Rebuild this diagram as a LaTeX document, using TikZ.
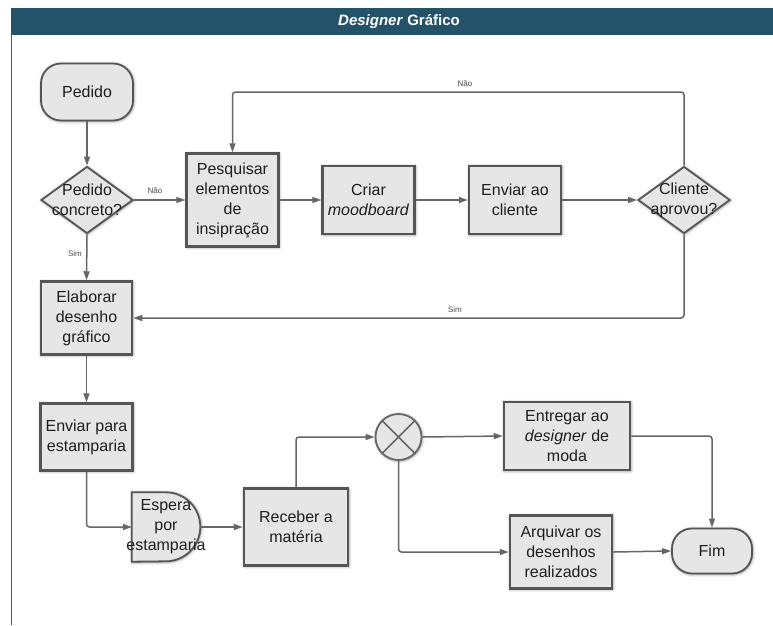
\documentclass[tikz,border=0pt]{standalone}
\usepackage{fontspec}
\setmainfont{Liberation Sans}
\usetikzlibrary{shapes.geometric,arrows.meta,shadows.blur}

\definecolor{headbar}{HTML}{245369}
\definecolor{boxfill}{HTML}{E6E6E6}
\definecolor{boxline}{HTML}{555555}
\definecolor{wire}{HTML}{666666}
\definecolor{ink}{HTML}{1E1E1E}

\tikzset{
  softshadow/.style={blur shadow={shadow xshift=0.6pt, shadow yshift=-0.6pt,
      shadow blur radius=3pt, shadow opacity=55}},
  boxtext/.style={align=center, text=ink, font=\fontsize{16}{20}\selectfont},
  proc/.style={rectangle, draw=boxline, fill=boxfill, line width=2.5pt,
      softshadow, boxtext, inner sep=0pt},
  term/.style={proc, rounded corners=20pt, line width=1.8pt},
  decision/.style={diamond, draw=boxline, fill=boxfill, line width=1.8pt,
      softshadow, inner sep=0pt, minimum width=92pt, minimum height=67pt},
  inside/.style={boxtext, inner sep=0pt},
  flow/.style={draw=wire, line width=1.5pt, rounded corners=3pt,
      -{Triangle[length=9pt,width=6pt]}},
  tag/.style={font=\fontsize{8}{9}\selectfont, text=ink!80, inner sep=1pt},
}

\begin{document}
\begin{tikzpicture}[x=1pt, y=1pt]
\useasboundingbox (0,0) rectangle (773,-625);

% lane header and left border
\fill[headbar] (11,-8) rectangle (773,-35);
\draw[boxline, line width=1.5pt] (11.5,-35) -- (11.5,-625);
\node[font=\fontsize{15}{18}\selectfont\bfseries, text=white] (title)
  at (399,-21.5) {\textit{Designer} Gráfico};

% first row
\node[term, minimum width=92pt, minimum height=57pt] (pedido) at (87,-92) {Pedido};
\node[decision] (dec1) at (87,-200) {};
\node[inside] (dec1t) at (dec1) {Pedido\\concreto?};
\node[proc, minimum width=92pt, minimum height=93pt] (pesq) at (232.5,-200)
  {Pesquisar\\elementos\\de\\insipração};
\node[proc, minimum width=92pt, minimum height=68pt] (criar) at (368.5,-200)
  {Criar\\\textit{moodboard}};
\node[proc, minimum width=92pt, minimum height=68pt] (envcli) at (515,-200)
  {Enviar ao\\cliente};
\node[decision] (dec2) at (684,-200) {};
\node[inside] (dec2t) at (dec2) {Cliente\\aprovou?};

% left column
\node[proc, minimum width=91pt, minimum height=73pt] (elab) at (86.5,-318)
  {Elaborar\\desenho\\gráfico};
\node[proc, minimum width=92pt, minimum height=67pt] (envest) at (86.5,-437)
  {Enviar para\\estamparia};

% delay shape
\node[minimum width=68pt, minimum height=69pt, inner sep=0pt] (espera) at (166,-527) {};
\path[fill=boxfill, draw=boxline, line width=1.8pt, softshadow]
  (espera.north west) -- ++(34pt,0)
  arc[start angle=90, end angle=-90, radius=34.5pt]
  -- (espera.south west) -- cycle;
\node[inside] (esperat) at (espera) {Espera\\por\\estamparia};

\node[proc, minimum width=104pt, minimum height=77pt] (receber) at (296,-527)
  {Receber a\\matéria};

% merge junction
\node[circle, draw=wire, fill=boxfill, line width=1.8pt, softshadow,
  minimum size=46pt, inner sep=0pt] (circ) at (398.5,-437) {};
\draw[wire, line width=1.5pt] (circ.north west) -- (circ.south east)
  (circ.north east) -- (circ.south west);

\node[proc, minimum width=126pt, minimum height=68pt] (entregar) at (567,-436)
  {Entregar ao\\\textit{designer} de\\moda};
\node[proc, minimum width=102pt, minimum height=73pt] (arquivar) at (561,-552)
  {Arquivar os\\desenhos\\realizados};
\node[term, minimum width=80pt, minimum height=45pt] (fim) at (712,-551) {Fim};

% connectors
\draw[flow] (pedido.south) -- (dec1.north);
\draw[flow] (dec1.east) -- (pesq.west);
\node[tag] (nao1) at (155,-191) {Não};
\draw[flow] (dec1.south) -- (elab.north);
\node[tag] (sim1) at (75,-254) {Sim};
\draw[flow] (pesq.east) -- (criar.west);
\draw[flow] (criar.east) -- (envcli.west);
\draw[flow] (envcli.east) -- (dec2.west);

\coordinate (loopcorner) at (232.5,-92);
\draw[flow] (dec2.north) |- (loopcorner) -- (pesq.north);
\node[tag] (nao2) at (465,-84) {Não};
\draw[flow] (dec2.south) |- (elab.east);
\node[tag] (sim2) at (455,-310) {Sim};

\draw[flow] (elab.south) -- (envest.north);
\draw[flow] (envest.south) |- (espera.west);
\draw[flow] (espera.east) -- (receber.west);
\draw[flow] (receber.north) |- (circ.west);
\draw[flow] (circ.east) -- (entregar.west);
\draw[flow] (circ.south) |- (arquivar.west);
\draw[flow] (arquivar.east) -- (fim.west);
\draw[flow] (entregar.east) -| (fim.north);
\end{tikzpicture}
\end{document}
